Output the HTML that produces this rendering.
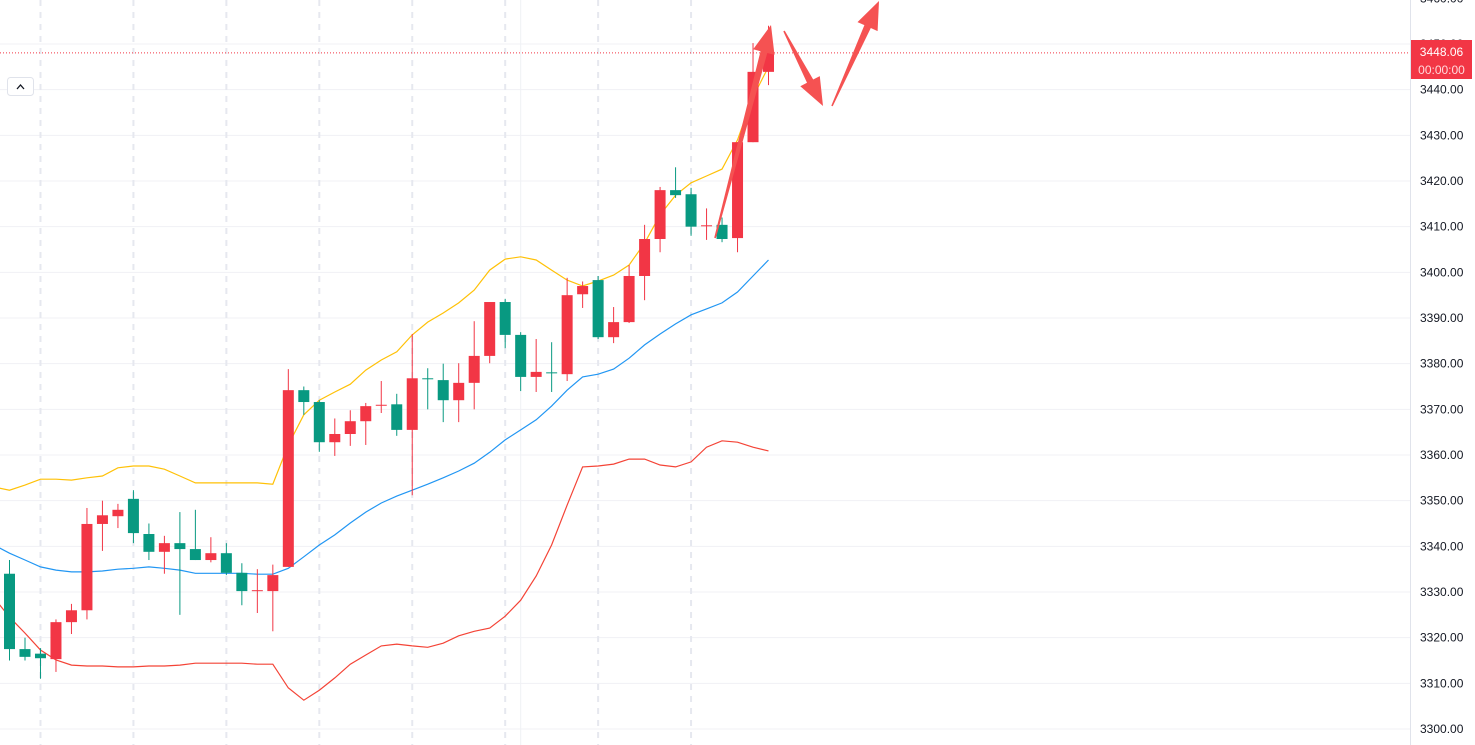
<!DOCTYPE html>
<html><head><meta charset="utf-8"><style>
html,body{margin:0;padding:0;background:#fff;width:1475px;height:745px;overflow:hidden}
svg{display:block}
text{font-family:"Liberation Sans",sans-serif}
</style></head><body>
<svg id="c" width="1475" height="745"></svg>
<script>
const opens=[3334,3317.5,3316.5,3315.3,3323.4,3326,3344.9,3346.6,3350.4,3342.7,3338.8,3340.7,3339.4,3337,3338.5,3334.2,3330.2,3330.2,3335.5,3374.2,3371.6,3362.8,3364.6,3367.4,3370.8,3371.1,3365.5,3376.8,3376.4,3372,3375.8,3381.7,3393.5,3386.3,3377.1,3378.1,3377.7,3395.2,3398.3,3385.8,3389.1,3399.2,3407.3,3418,3417.1,3410.1,3410.4,3407.5,3428.5,3443.9];
const closes=[3317.5,3315.8,3315.5,3323.4,3326,3344.9,3346.8,3348,3342.9,3338.8,3340.7,3339.4,3337,3338.5,3334.2,3330.2,3330.4,3333.7,3374.2,3371.6,3362.8,3364.6,3367.4,3370.7,3371,3365.5,3376.8,3376.6,3372,3375.8,3381.7,3393.5,3386.3,3377.1,3378.2,3377.9,3395,3397,3385.8,3389.1,3399.2,3407.3,3418,3416.9,3410,3410.3,3407.3,3428.5,3443.9,3448.06];
const highs=[3337,3320,3317.7,3324,3327.4,3348.4,3350,3349.3,3352.3,3345,3342.3,3347.5,3348,3342,3340.7,3336.3,3335,3336,3378.8,3375,3372,3368,3369.8,3371.4,3376.2,3373.4,3386.5,3379,3380,3380.1,3389.3,3393.5,3394.2,3386.9,3385.4,3384.7,3398.8,3398,3399.2,3392.4,3401.6,3410.4,3418.7,3423,3418.5,3414,3412,3428.5,3450.2,3454];
const lows=[3315,3315,3311,3312.5,3320.8,3324,3339,3344,3340.7,3337,3334,3325,3337,3336.5,3333.7,3327.1,3325.4,3321.4,3335.5,3368.8,3360.7,3359.8,3362,3362.2,3369.2,3364.2,3351.2,3370,3367.2,3367.2,3370,3380.1,3383.4,3374,3373.8,3373.8,3376.2,3392.2,3385.4,3384.5,3388.9,3393.9,3404.4,3416.3,3408,3407.1,3406.6,3404.4,3428.5,3441];
// band values start one bar before first visible candle
const upperBand=[3353.0,3352.3,3353.4,3354.7,3354.7,3354.5,3355.0,3355.4,3357.2,3357.6,3357.6,3356.9,3355.4,3353.9,3353.9,3353.9,3353.9,3353.9,3353.6,3362.2,3368.8,3372.0,3373.8,3375.5,3378.6,3380.8,3382.6,3386.3,3389.1,3391.1,3393.3,3396.1,3400.5,3402.9,3403.4,3402.7,3400.5,3398.3,3397.0,3398.1,3399.4,3401.6,3406.4,3412.6,3416.9,3419.6,3421.1,3422.6,3429.0,3438.4,3445.0];
const middleBand=[3340.3,3338.5,3337.0,3335.5,3334.8,3334.4,3334.4,3334.6,3335.0,3335.2,3335.5,3335.2,3334.8,3334.1,3334.1,3334.1,3334.1,3333.9,3333.9,3335.2,3337.7,3340.3,3342.5,3345.1,3347.5,3349.5,3351.0,3352.3,3353.6,3355.0,3356.5,3358.2,3360.6,3363.3,3365.5,3367.7,3370.7,3374.2,3377.1,3377.7,3378.8,3381.2,3384.1,3386.5,3388.7,3390.7,3392.0,3393.3,3395.7,3399.2,3402.7];
const lowerBand=[3328.7,3324.5,3321.0,3317.3,3315.1,3314.0,3313.8,3313.8,3313.6,3313.6,3313.8,3313.8,3314.0,3314.4,3314.4,3314.4,3314.4,3314.2,3314.2,3309.0,3306.3,3308.5,3311.2,3314.2,3316.2,3318.2,3318.6,3318.2,3317.9,3318.8,3320.4,3321.4,3322.1,3324.7,3328.2,3333.5,3340.3,3349.0,3357.4,3357.6,3358.0,3359.1,3359.1,3357.8,3357.4,3358.5,3361.7,3363.1,3362.8,3361.7,3360.9];
const priceTicks=[3460,3450,3440,3430,3420,3410,3400,3390,3380,3370,3360,3350,3340,3330,3320,3310,3300];
const lastPrice=3448.06;

const NS='http://www.w3.org/2000/svg';
const svg=document.getElementById('c');
const yS=p=>44+(3450-p)*4.5667;
const xS=i=>9.5+i*15.49;
function mk(t,a,p){const e=document.createElementNS(NS,t);for(const k in a)e.setAttribute(k,a[k]);(p||svg).appendChild(e);return e;}

const grid=mk('g',{});


priceTicks.forEach(p=>{mk('line',{x1:0,x2:1410,y1:yS(p),y2:yS(p),stroke:'#f0f1f5','stroke-width':1},grid);});
[2,8,14,20,26,32,38,44].forEach(i=>{mk('line',{x1:xS(i),x2:xS(i),y1:0,y2:745,stroke:'#e6e8ef','stroke-width':2,'stroke-dasharray':'6 6'},grid);});
mk('line',{x1:xS(33),x2:xS(33),y1:0,y2:745,stroke:'#f0f1f5','stroke-width':1},grid);

function band(arr,color,name){
  const pts=arr.map((v,i)=>xS(i-1).toFixed(1)+','+yS(v).toFixed(1)).join(' ');
  const pl=mk('polyline',{points:pts,fill:'none',stroke:color,'stroke-width':1.2});
  
  
}
band(upperBand,'#ffc107','upper-band-line');
band(middleBand,'#2196f3','middle-band-line');
band(lowerBand,'#f44336','lower-band-line');

const cg=mk('g',{});


opens.forEach((o,i)=>{
  const c=closes[i],up=c>=o,col=up?'#f23645':'#089981',x=xS(i);
  const g=mk('g',{},cg);
  
  
  mk('line',{x1:x,x2:x,y1:yS(highs[i]),y2:yS(lows[i]),stroke:col,'stroke-width':1},g);
  const t=yS(Math.max(o,c)),b=yS(Math.min(o,c));
  mk('rect',{x:x-5.5,y:t,width:11,height:Math.max(1,b-t),fill:col},g);
});

const lp=mk('line',{x1:0,x2:1410,y1:yS(lastPrice),y2:yS(lastPrice),stroke:'#f23645','stroke-width':1,'stroke-dasharray':'1 2'});



function arrow(x1,y1,x2,y2,name){
  const dx=x2-x1,dy=y2-y1,L=Math.hypot(dx,dy),ux=dx/L,uy=dy/L,nx=-uy,ny=ux;
  const hl=28,bx=x2-ux*hl,by=y2-uy*hl;
  const P=[[x1+nx*0.8,y1+ny*0.8],[bx+nx*3.5,by+ny*3.5],[bx+nx*11,by+ny*11],[x2,y2],[bx-nx*11,by-ny*11],[bx-nx*3.5,by-ny*3.5],[x1-nx*0.8,y1-ny*0.8]];
  const a=mk('polygon',{points:P.map(p=>p[0].toFixed(1)+','+p[1].toFixed(1)).join(' '),fill:'#f55252'});
  
  
}
arrow(715,238,771,25,'arrow-up-1');
arrow(784,31,823,106,'arrow-down');
arrow(832,106,879,1,'arrow-up-2');

const ax=mk('g',{});


mk('rect',{x:1410,y:0,width:65,height:745,fill:'#fff'},ax);
mk('line',{x1:1410.5,x2:1410.5,y1:0,y2:745,stroke:'#e0e3eb','stroke-width':1},ax);
priceTicks.forEach(p=>{
  const t=mk('text',{x:1420,y:yS(p)+4,'font-size':12,fill:'#131722'},ax);
  t.textContent=p.toFixed(2);
  
  
});
const lb=mk('g',{});


mk('rect',{x:1411,y:40,width:61,height:39,fill:'#f23645'},lb);
const t1=mk('text',{x:1441.5,y:56,'font-size':12,fill:'#fff','text-anchor':'middle'},lb);t1.textContent=lastPrice.toFixed(2);
const t2=mk('text',{x:1441.5,y:74,'font-size':12,fill:'#ffd9dc','text-anchor':'middle'},lb);t2.textContent='00:00:00';

const btn=mk('g',{});


mk('rect',{x:7.5,y:77.5,width:26,height:18,rx:3,fill:'#fff',stroke:'#e0e3eb'},btn);
mk('polyline',{points:'17,89 20.5,85 24,89',fill:'none',stroke:'#131722','stroke-width':1.3},btn);
</script>
</body></html>
